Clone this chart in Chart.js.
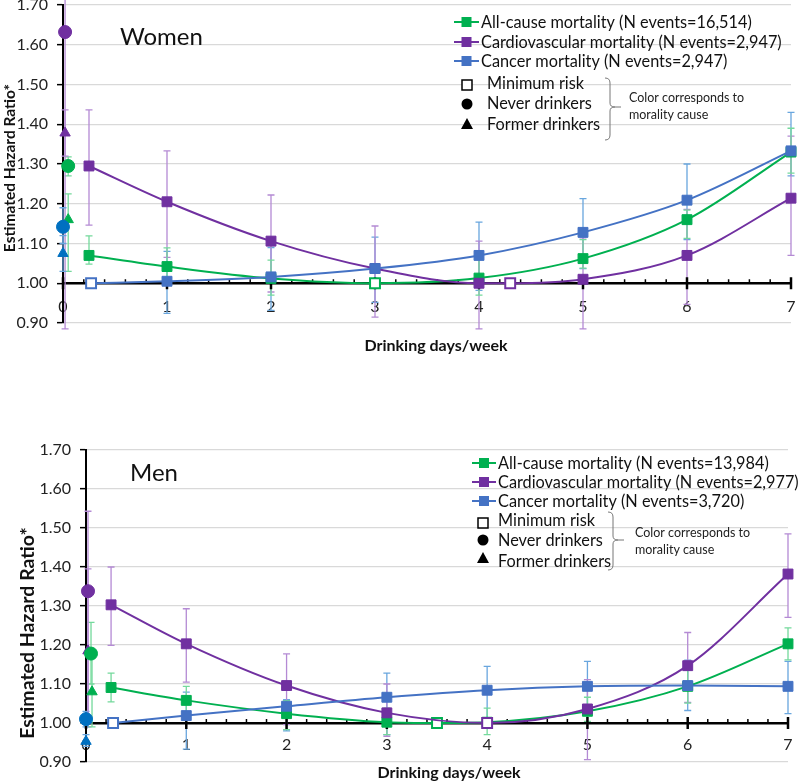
<!DOCTYPE html>
<html>
<head>
<meta charset="utf-8">
<script src="https://cdn.jsdelivr.net/npm/chart.js@4.4.1/dist/chart.umd.min.js"></script>
<style>
  html, body { margin: 0; padding: 0; background: #fff; }
  body { width: 800px; height: 782px; position: relative; overflow: hidden; }
  .panel { position: absolute; left: 0; width: 800px; }
  #womenBox { top: -6px; height: 376px; }
  #menBox { top: 440px; height: 342px; }
</style>
</head>
<body>
<div class="panel" id="womenBox"><canvas id="womenChart" width="800" height="376"></canvas></div>
<div class="panel" id="menBox"><canvas id="menChart" width="800" height="342"></canvas></div>
<script>
// ---------- Women ----------
const womenAllX = [0.25, 1, 2, 3, 4, 5, 6, 7];
const womenAllHR = [1.07, 1.042, 1.012, 1.0, 1.013, 1.062, 1.16, 1.33];
const womenAllLo = [1.048, 0.995, 0.97, null, 0.97, 1.038, 1.113, 1.277];
const womenAllHi = [1.119, 1.089, 1.058, null, 1.07, 1.11, 1.184, 1.39];
const womenAllMin = 3;

const womenCvdX = [0.25, 1, 2, 3, 4, 4.3, 5, 6, 7];
const womenCvdHR = [1.295, 1.205, 1.106, 1.037, 1.0, 1.0, 1.01, 1.07, 1.214];
const womenCvdLo = [1.146, 1.065, 0.978, 0.915, 0.885, null, 0.885, 0.947, 1.07];
const womenCvdHi = [1.436, 1.333, 1.222, 1.144, 1.106, null, 1.114, 1.186, 1.37];
const womenCvdMin = 5;

const womenCancerX = [0.27, 1, 2, 3, 4, 5, 6, 7];
const womenCancerHR = [1.0, 1.005, 1.016, 1.037, 1.07, 1.128, 1.209, 1.333];
const womenCancerLo = [null, 0.924, 0.932, 0.952, 0.982, 1.037, 1.11, 1.27];
const womenCancerHi = [null, 1.08, 1.09, 1.116, 1.154, 1.213, 1.30, 1.43];
const womenCancerMin = 0;

// never / former drinkers: all-cause, cardiovascular, cancer
const womenNeverX = [0.05, 0.02, 0];
const womenNeverHR = [1.295, 1.632, 1.142];
const womenNeverLo = [1.27, 0.885, 1.10];
const womenNeverHi = [1.318, 1.78, 1.19];
const womenFormerX = [0.05, 0.02, 0];
const womenFormerHR = [1.16, 1.378, 1.075];
const womenFormerLo = [1.03, 1.32, 1.03];
const womenFormerHi = [1.225, 1.436, 1.12];

const womenLegend = ['All-cause mortality (N events=16,514)', 'Cardiovascular mortality (N events=2,947)', 'Cancer mortality (N events=2,947)'];

// ---------- Men ----------
const menAllX = [0.25, 1, 2, 3, 3.5, 4, 5, 6, 7];
const menAllHR = [1.091, 1.058, 1.024, 1.002, 1.0, 1.002, 1.03, 1.094, 1.203];
const menAllLo = [1.054, 1.02, 0.983, 0.97, null, 0.97, 1.004, 1.051, 1.162];
const menAllHi = [1.128, 1.094, 1.057, 1.038, null, 1.038, 1.066, 1.135, 1.244];
const menAllMin = 4;

const menCvdX = [0.25, 1, 2, 3, 4, 5, 6, 7];
const menCvdHR = [1.303, 1.203, 1.096, 1.026, 1.0, 1.036, 1.147, 1.382];
const menCvdLo = [1.199, 1.105, 0.996, 0.966, null, 0.906, 1.053, 1.271];
const menCvdHi = [1.40, 1.293, 1.177, 1.10, null, 1.111, 1.232, 1.485];
const menCvdMin = 4;

const menCancerX = [0.27, 1, 2, 3, 4, 5, 6, 7];
const menCancerHR = [1.0, 1.019, 1.043, 1.066, 1.084, 1.094, 1.096, 1.094];
const menCancerLo = [null, 0.933, 0.98, 0.97, 1.01, 1.03, 1.032, 1.024];
const menCancerHi = [null, 1.079, 1.06, 1.128, 1.145, 1.158, 1.161, 1.158];
const menCancerMin = 0;

const menNeverX = [0.05, 0.02, 0];
const menNeverHR = [1.178, 1.338, 1.01];
const menNeverLo = [1.10, 0.99, 0.99];
const menNeverHi = [1.258, 1.543, 1.03];
const menFormerX = [0.06, 0.02, 0];
const menFormerHR = [1.08, 1.185, 0.953];
const menFormerLo = [0.99, 1.0, 0.94];
const menFormerHi = [1.18, 1.395, 0.97];

const menLegend = ['All-cause mortality (N events=13,984)', 'Cardiovascular mortality (N events=2,977)', 'Cancer mortality (N events=3,720)'];

const markerLabels = ['Minimum risk', 'Never drinkers', 'Former drinkers'];
const noteLines = ['Color corresponds to', 'morality cause'];

// ---------- styling ----------
const GREEN = '#00B050', PURPLE = '#7030A0', BLUE = '#4472C4', DOTBLUE = '#0070C0';
const ERR_GREEN = '#74D99C', ERR_PURPLE = '#B48AD4', ERR_BLUE = '#69A6DE';
const FONT = 'Lato, "Open Sans", sans-serif';

function seriesSet(xs, ys, lo, hi, minIdx, color, errColor, order) {
    return {
        type: 'line',
        order: order,
        data: xs.map((x, i) => ({ x: x, y: ys[i] })),
        errLo: lo, errHi: hi, errColor: errColor,
        showLine: true,
        borderColor: color,
        borderWidth: 2,
        cubicInterpolationMode: 'monotone',
        pointStyle: 'rect',
        pointRadius: 7,
        pointHoverRadius: 7,
        pointBackgroundColor: c => c.dataIndex === minIdx ? '#fff' : color,
        pointBorderColor: color,
        pointBorderWidth: c => c.dataIndex === minIdx ? 2 : 1,
        clip: false
    };
}

function dotSet(xs, ys, lo, hi, style, radius) {
    return {
        type: 'scatter',
        order: 0,
        data: xs.map((x, i) => ({ x: x, y: ys[i] })),
        errLo: lo, errHi: hi, errColor: [ERR_GREEN, ERR_PURPLE, ERR_BLUE],
        pointStyle: style,
        pointRadius: radius,
        pointHoverRadius: radius,
        pointBackgroundColor: [GREEN, PURPLE, DOTBLUE],
        pointBorderColor: [GREEN, PURPLE, DOTBLUE],
        pointBorderWidth: 1,
        clip: false
    };
}

const errorBars = {
    id: 'errorBars',
    beforeDatasetsDraw(chart) {
        const ctx = chart.ctx, ys = chart.scales.y;
        chart.data.datasets.forEach((ds, i) => {
            if (!ds.errLo) return;
            chart.getDatasetMeta(i).data.forEach((pt, j) => {
                const lo = ds.errLo[j], hi = ds.errHi[j];
                if (lo == null || hi == null) return;
                const yLo = ys.getPixelForValue(lo), yHi = ys.getPixelForValue(hi);
                ctx.save();
                ctx.strokeStyle = Array.isArray(ds.errColor) ? ds.errColor[j] : ds.errColor;
                ctx.lineWidth = 1.3;
                ctx.beginPath();
                ctx.moveTo(pt.x, yLo); ctx.lineTo(pt.x, yHi);
                ctx.moveTo(pt.x - 3.5, yLo); ctx.lineTo(pt.x + 3.5, yLo);
                ctx.moveTo(pt.x - 3.5, yHi); ctx.lineTo(pt.x + 3.5, yHi);
                ctx.stroke();
                ctx.restore();
            });
        });
    }
};

function makeDecor(cfg) {
    return {
        id: 'decor',
        beforeDatasetsDraw(chart) {
            // tick marks on the x axis (it crosses at HR = 1.00)
            const { ctx, scales: { x, y } } = chart;
            const y0 = y.getPixelForValue(1);
            ctx.save();
            ctx.strokeStyle = '#000';
            for (let i = 0; i <= 35; i++) {
                const px = x.getPixelForValue(i / 5);
                const major = i % 5 === 0;
                ctx.lineWidth = major ? 2.5 : 1.5;
                ctx.beginPath();
                ctx.moveTo(px, y0 - (major ? 6 : 4));
                ctx.lineTo(px, y0 + (major ? 6 : 0));
                ctx.stroke();
            }
            ctx.restore();
        },
        afterDraw(chart) {
            const ctx = chart.ctx;
            ctx.save();
            ctx.fillStyle = '#111';
            ctx.textBaseline = 'middle';
            ctx.textAlign = 'left';

            ctx.font = '24px ' + FONT;
            ctx.fillText(cfg.panel, cfg.panelX, cfg.panelY);

            // axis titles
            ctx.font = 'bold ' + cfg.xTitleSize + 'px ' + FONT;
            ctx.textAlign = 'center';
            ctx.fillText('Drinking days/week', cfg.xTitleX, cfg.xTitleY);
            ctx.save();
            ctx.translate(cfg.yTitleX, cfg.yTitleY);
            ctx.rotate(-Math.PI / 2);
            ctx.font = 'bold ' + cfg.yTitleSize + 'px ' + FONT;
            ctx.fillText('Estimated Hazard Ratio*', 0, 0);
            ctx.restore();

            // legend: series
            ctx.textAlign = 'left';
            ctx.font = '16.3px ' + FONT;
            const colors = [GREEN, PURPLE, BLUE];
            cfg.legend.forEach((label, k) => {
                const ry = cfg.lineRows[k];
                ctx.strokeStyle = colors[k];
                ctx.lineWidth = 2;
                ctx.beginPath();
                ctx.moveTo(cfg.lineX1, ry); ctx.lineTo(cfg.lineX2, ry);
                ctx.stroke();
                ctx.fillStyle = colors[k];
                const cx = (cfg.lineX1 + cfg.lineX2) / 2;
                ctx.fillRect(cx - 5, ry - 5, 10, 10);
                ctx.fillStyle = '#111';
                ctx.fillText(label, cfg.lineX2 + 2, ry + 1);
            });

            // legend: marker shapes
            const mx = cfg.markX;
            const r = cfg.markRows;
            ctx.strokeStyle = '#000';
            ctx.lineWidth = 1.5;
            ctx.fillStyle = '#fff';
            ctx.fillRect(mx - 5, r[0] - 5, 10, 10);
            ctx.strokeRect(mx - 5, r[0] - 5, 10, 10);
            ctx.fillStyle = '#000';
            ctx.beginPath(); ctx.arc(mx, r[1], 5.5, 0, Math.PI * 2); ctx.fill();
            ctx.beginPath();
            ctx.moveTo(mx, r[2] - 6); ctx.lineTo(mx + 6, r[2] + 5); ctx.lineTo(mx - 6, r[2] + 5);
            ctx.closePath(); ctx.fill();
            ctx.fillStyle = '#111';
            markerLabels.forEach((t, k) => ctx.fillText(t, cfg.markTextX, cfg.markTextRows[k]));

            // brace + note
            const b = cfg.brace;
            ctx.strokeStyle = '#777';
            ctx.lineWidth = 1;
            ctx.beginPath();
            ctx.moveTo(b.x, b.top);
            ctx.quadraticCurveTo(b.x + 5, b.top, b.x + 5, b.top + 5);
            ctx.lineTo(b.x + 5, b.mid - 4);
            ctx.quadraticCurveTo(b.x + 5, b.mid, b.x + 10, b.mid);
            ctx.lineTo(b.x + 16, b.mid);
            ctx.moveTo(b.x + 10, b.mid);
            ctx.quadraticCurveTo(b.x + 5, b.mid, b.x + 5, b.mid + 4);
            ctx.lineTo(b.x + 5, b.bot - 5);
            ctx.quadraticCurveTo(b.x + 5, b.bot, b.x, b.bot);
            ctx.stroke();
            ctx.font = '12.5px ' + FONT;
            ctx.fillStyle = '#222';
            noteLines.forEach((t, k) => ctx.fillText(t, cfg.noteX, cfg.noteRows[k]));
            ctx.restore();
        }
    };
}

function buildChart(id, sets, padding, axisWidth, labelPad, cfg) {
    return new Chart(document.getElementById(id), {
        type: 'scatter',
        data: { datasets: sets },
        options: {
            responsive: false,
            animation: false,
            events: [],
            layout: { padding: padding },
            plugins: { legend: { display: false }, tooltip: { enabled: false } },
            scales: {
                x: {
                    type: 'linear',
                    position: { y: 1 },
                    min: 0, max: 7,
                    afterFit: s => { s.paddingLeft = 0; s.paddingRight = 0; },
                    ticks: { stepSize: 1, padding: labelPad, color: '#222', font: { family: FONT, size: 16 } },
                    grid: { drawOnChartArea: false, drawTicks: false },
                    border: { color: '#000', width: 2.5 }
                },
                y: {
                    min: 0.9, max: 1.7,
                    afterFit: s => { s.width = axisWidth; s.paddingTop = 0; s.paddingBottom = 0; },
                    ticks: {
                        stepSize: 0.1, padding: 9, color: '#222',
                        font: { family: FONT, size: 16 },
                        callback: v => v.toFixed(2)
                    },
                    grid: { color: '#d9d9d9', lineWidth: 1.3, tickColor: '#000', tickLength: 6, tickWidth: 1.5 },
                    border: { color: '#000', width: 2 }
                }
            }
        },
        plugins: [errorBars, makeDecor(cfg)]
    });
}

// Women (canvas sits 6px above the page top)
buildChart('womenChart', [
    dotSet(womenNeverX, womenNeverHR, womenNeverLo, womenNeverHi, 'circle', 6.5),
    dotSet(womenFormerX, womenFormerHR, womenFormerLo, womenFormerHi, 'triangle', 6),
    seriesSet(womenCancerX, womenCancerHR, womenCancerLo, womenCancerHi, womenCancerMin, BLUE, ERR_BLUE, 1),
    seriesSet(womenCvdX, womenCvdHR, womenCvdLo, womenCvdHi, womenCvdMin, PURPLE, ERR_PURPLE, 2),
    seriesSet(womenAllX, womenAllHR, womenAllLo, womenAllHi, womenAllMin, GREEN, ERR_GREEN, 3)
], { top: 11, right: 5, bottom: 47, left: 0 }, 63, 14, {
    panel: 'Women', panelX: 120, panelY: 43,
    xTitleX: 436, xTitleY: 352, xTitleSize: 16,
    yTitleX: 10, yTitleY: 174, yTitleSize: 15.5,
    legend: womenLegend,
    lineX1: 454, lineX2: 479, lineRows: [28, 48, 67],
    markX: 467, markRows: [91, 110, 130], markTextX: 487, markTextRows: [90, 110, 131],
    brace: { x: 605, top: 84, mid: 113, bot: 146 },
    noteX: 629, noteRows: [104, 121]
});

// Men
buildChart('menChart', [
    dotSet(menNeverX, menNeverHR, menNeverLo, menNeverHi, 'circle', 6.5),
    dotSet(menFormerX, menFormerHR, menFormerLo, menFormerHi, 'triangle', 6),
    seriesSet(menCancerX, menCancerHR, menCancerLo, menCancerHi, menCancerMin, BLUE, ERR_BLUE, 1),
    seriesSet(menCvdX, menCvdHR, menCvdLo, menCvdHi, menCvdMin, PURPLE, ERR_PURPLE, 2),
    seriesSet(menAllX, menAllHR, menAllLo, menAllHi, menAllMin, GREEN, ERR_GREEN, 3)
], { top: 10, right: 12, bottom: 20, left: 0 }, 86, 12, {
    panel: 'Men', panelX: 130, panelY: 33,
    xTitleX: 449, xTitleY: 333, xTitleSize: 16,
    yTitleX: 28, yTitleY: 193, yTitleSize: 19.5,
    legend: menLegend,
    lineX1: 472, lineX2: 496, lineRows: [23, 42, 61],
    markX: 483, markRows: [83, 100, 118], markTextX: 498, markTextRows: [81, 101, 122],
    brace: { x: 608, top: 72, mid: 100, bot: 130 },
    noteX: 635, noteRows: [93, 110]
});
</script>
</body>
</html>
